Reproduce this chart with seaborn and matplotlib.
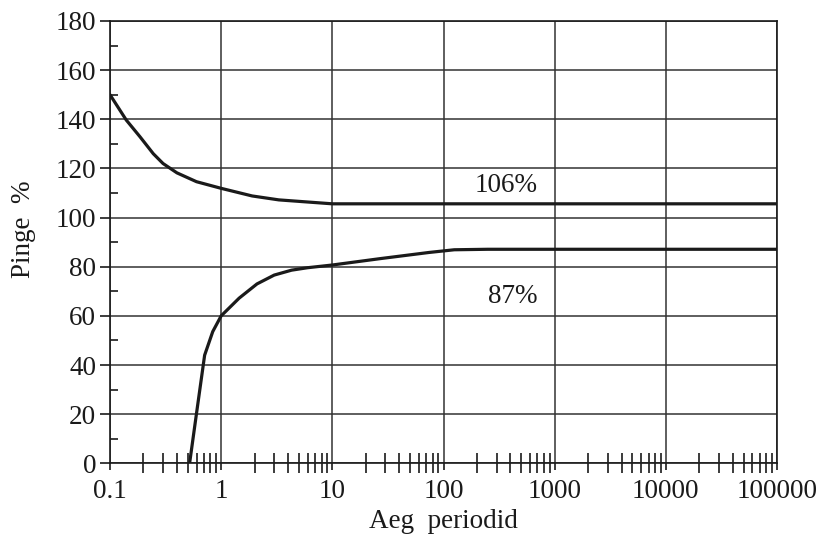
import numpy as np
import pandas as pd
import matplotlib
matplotlib.use("Agg")
import matplotlib.pyplot as plt
import matplotlib.ticker as mticker
import seaborn as sns

# ---- data ----
upper_x = [0.1, 0.14, 0.186, 0.245, 0.3, 0.4, 0.6, 1.0, 1.9, 3.3, 10.0, 100000.0]
upper_y = [150.0, 139.7, 132.9, 126.0, 122.0, 118.2, 114.6, 111.9, 108.8, 107.2, 105.6, 105.6]

lower_x = [0.52, 0.6, 0.71, 0.84, 1.0, 1.45, 2.1, 3.0, 4.3, 6.0, 10.0, 27.0, 74.0, 125.0, 250.0, 100000.0]
lower_y = [0.0, 20.3, 44.0, 53.6, 60.0, 67.2, 73.0, 76.6, 78.6, 79.6, 80.7, 83.3, 85.8, 86.9, 87.1, 87.1]

x_ticks = [0.1, 1, 10, 100, 1000, 10000, 100000]
x_tick_labels = ["0.1", "1", "10", "100", "1000", "10000", "100000"]
y_ticks = [0, 20, 40, 60, 80, 100, 120, 140, 160, 180]
y_minor = [10, 30, 50, 70, 90, 110, 130, 150, 170]

labels = ["106%", "87%"]
label_x = [367, 421]
label_y = [113.2, 68.0]

x_label = "Aeg  periodid"
y_label = "Pinge  %"

# ---- styling ----
sns.set_theme(style="white")
plt.rcParams["font.family"] = ["Liberation Serif", "DejaVu Serif"]

W, H = 822, 535
fig = plt.figure(figsize=(W / 100, H / 100), dpi=100)
ax = fig.add_axes([110 / W, 1 - 463.3 / H, (777 - 110) / W, (463.3 - 21) / H])

dark = "#1a1a1a"
grid_c = "#333333"

df_u = pd.DataFrame({"x": upper_x, "y": upper_y})
df_l = pd.DataFrame({"x": lower_x, "y": lower_y})
sns.lineplot(data=df_u, x="x", y="y", color=dark, linewidth=2.3, ax=ax, sort=False, zorder=3)
sns.lineplot(data=df_l, x="x", y="y", color=dark, linewidth=2.3, ax=ax, sort=False, zorder=3)

ax.set_xscale("log")
ax.set_xlim(0.1, 100000)
ax.set_ylim(0, 180)

ax.set_xticks(x_ticks)
ax.xaxis.set_major_formatter(mticker.FixedFormatter(x_tick_labels))
ax.xaxis.set_minor_locator(mticker.LogLocator(base=10, subs=np.arange(2, 10)))
ax.xaxis.set_minor_formatter(mticker.NullFormatter())
ax.set_yticks(y_ticks)
ax.set_yticks(y_minor, minor=True)

ax.grid(True, which="major", color=grid_c, linewidth=1.1)
ax.grid(False, which="minor")

for s in ax.spines.values():
    s.set_color(dark)
    s.set_linewidth(1.2)
    s.set_visible(True)

fs = 19.5
ax.tick_params(axis="x", which="major", direction="out", length=5, width=1.2,
               color=dark, labelsize=fs, labelcolor=dark, pad=6, bottom=True)
ax.tick_params(axis="x", which="minor", direction="inout", length=14, width=1.2,
               color=dark, bottom=True)
ax.tick_params(axis="y", which="major", direction="out", length=7, width=1.2,
               color=dark, labelsize=fs, labelcolor=dark, pad=3, left=True)
ax.tick_params(axis="y", which="minor", direction="in", length=6, width=1.2,
               color=dark, left=True)

for t, xx, yy in zip(labels, label_x, label_y):
    ax.text(xx, yy, t, fontsize=fs, color=dark, ha="center", va="center")

ax.set_xlabel(x_label, fontsize=fs, color=dark)
ax.set_ylabel(y_label, fontsize=fs, color=dark)
ax.xaxis.label.set_va("baseline")
ax.xaxis.set_label_coords(0.5, (463.3 - 528) / (463.3 - 21))
ax.yaxis.label.set_va("center")
ax.yaxis.set_label_coords((23 - 110) / (777 - 110), (463.3 - 229) / (463.3 - 21))

fig.savefig("out.png", dpi=100, facecolor="white")
